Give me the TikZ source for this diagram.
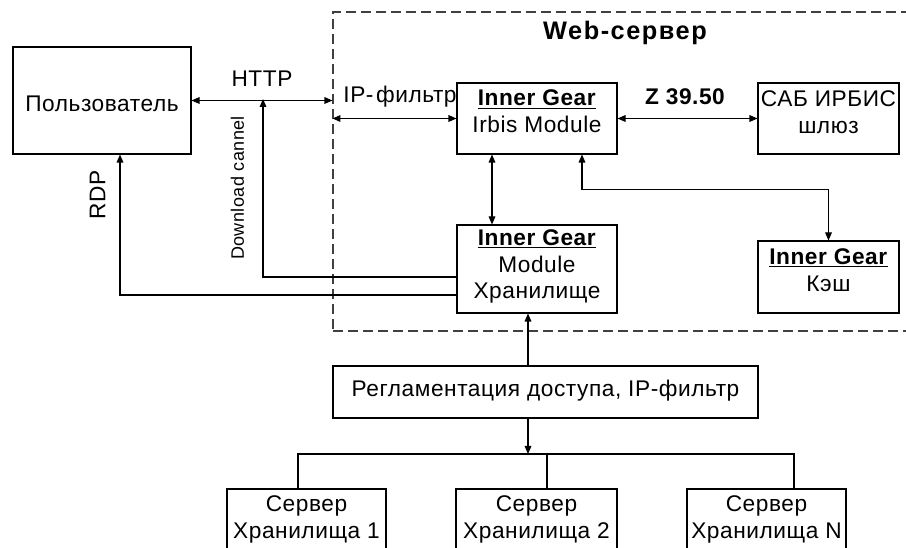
\documentclass[tikz,border=0pt]{standalone}
\usepackage{fontspec}
\setmainfont[LetterSpace=2.5]{Liberation Sans}
\usetikzlibrary{arrows.meta,positioning,calc}
\tikzset{
  box/.style={draw=black, line width=0.8pt, rectangle, inner sep=0pt},
  txt/.style={align=center, inner sep=0pt, font=\fontsize{17}{20}\selectfont},
  lbl/.style={inner sep=0pt, font=\fontsize{17}{20}\selectfont},
  conn/.style={line width=0.8pt, draw=black},
  tipend/.style={conn, -{Triangle[length=6pt,width=5pt]}},
  bitip/.style={conn, {Triangle[length=6pt,width=5pt]}-{Triangle[length=6pt,width=5pt]}},
  webbox/.style={draw=black!75, line width=0.8pt, dash pattern=on 7.5pt off 3.75pt, rectangle, inner sep=0pt}
}
\newcommand{\ig}{\underline{\textbf{Inner Gear}}}
\begin{document}
\begin{tikzpicture}[x=0.75pt,y=-0.75pt]
\useasboundingbox (0,0) rectangle (906,548);
\clip (0,0) rectangle (906,548);
\fill[white] (0,0) rectangle (906,548);

% dashed web-server area
\node[webbox, minimum width=440.25pt, minimum height=239.25pt] (web) at (626.5,171.5) {};
\node[lbl, font=\fontsize{19}{22}\selectfont\bfseries\addfontfeatures{LetterSpace=6}] (webt) at (625,33) {Web-сервер};

% boxes
\node[box, minimum width=133.5pt, minimum height=80.25pt] (user) at (102,100.5) {};
\node[txt] (usert) at (102,104) {Пользователь};

\node[box, minimum width=120pt, minimum height=53.25pt] (irbis) at (537,118.5) {};
\node[txt] (irbist) at (537,111.5) {\ig\\Irbis Module};

\node[box, minimum width=105.75pt, minimum height=53.25pt] (sab) at (828.5,118.5) {};
\node[txt] (sabt) at (828.5,112) {САБ ИРБИС\\шлюз};

\node[box, minimum width=120pt, minimum height=66pt] (hran) at (537,269) {};
\node[txt] (hrant) at (537,266.5) {\ig\\Module\\Хранилище};

\node[box, minimum width=105.75pt, minimum height=54pt] (cache) at (828.5,277) {};
\node[txt] (cachet) at (828.5,270) {\ig\\Кэш};

\node[box, minimum width=318.75pt, minimum height=39pt] (reg) at (545.5,392) {};
\node[txt] (regt) at (545.5,391) {Регламентация доступа, IP-фильтр};

\node[box, minimum width=119.25pt, minimum height=53.25pt] (s1) at (306.5,524.5) {};
\node[txt] (s1t) at (306.5,519.5) {Сервер\\Хранилища 1};
\node[box, minimum width=120.75pt, minimum height=53.25pt] (s2) at (536.5,524.5) {};
\node[txt] (s2t) at (536.5,519.5) {Сервер\\Хранилища 2};
\node[box, minimum width=119.25pt, minimum height=53.25pt] (sN) at (766.5,524.5) {};
\node[txt] (sNt) at (766.5,519.5) {Сервер\\Хранилища N};

% labels
\node[lbl] (http) at (262,79) {HTTP};
\node[lbl] (ipf) at (400,97) {IP-\hspace{2pt}фильтр};
\node[lbl, font=\fontsize{17}{20}\selectfont\bfseries] (z3950) at (685,97) {Z 39.50};
\node[lbl, rotate=90, font=\fontsize{13.5}{16}\selectfont] (dlc) at (237.5,188) {Download cannel};
\node[lbl, rotate=90] (rdp) at (97.5,195) {RDP};

% connectors
\draw[bitip] (user.east) -- (user.east -| web.west);
\draw[bitip] (irbis.west -| web.west) -- (irbis.west);
\draw[bitip] (irbis.east) -- (sab.west);
\draw[bitip] ([xshift=-33.75pt]irbis.south) -- ([xshift=-33.75pt]irbis.south |- hran.north);
\draw[bitip] ([xshift=33.75pt]irbis.south) -- ++(0,35) -| (cache.north);

\coordinate (dltop) at (263,99);
\draw[tipend] ([yshift=-6pt]hran.west) -| (dltop);
\draw[tipend] ([yshift=-19.5pt]hran.west) -| ([xshift=13.5pt]user.south);

\draw[tipend] ([xshift=-13.125pt]reg.north) -- ([xshift=-13.125pt]reg.north |- hran.south);
\coordinate (bus) at (528,454);
\draw[tipend] ([xshift=-13.125pt]reg.south) -- (bus);
\draw[conn] ([xshift=-6.375pt]s1.north) |- (bus) -| ([xshift=20.625pt]sN.north);
\draw[conn] ([xshift=7.875pt]s2.north) -- ([xshift=7.875pt]s2.north |- bus);
\end{tikzpicture}
\end{document}
